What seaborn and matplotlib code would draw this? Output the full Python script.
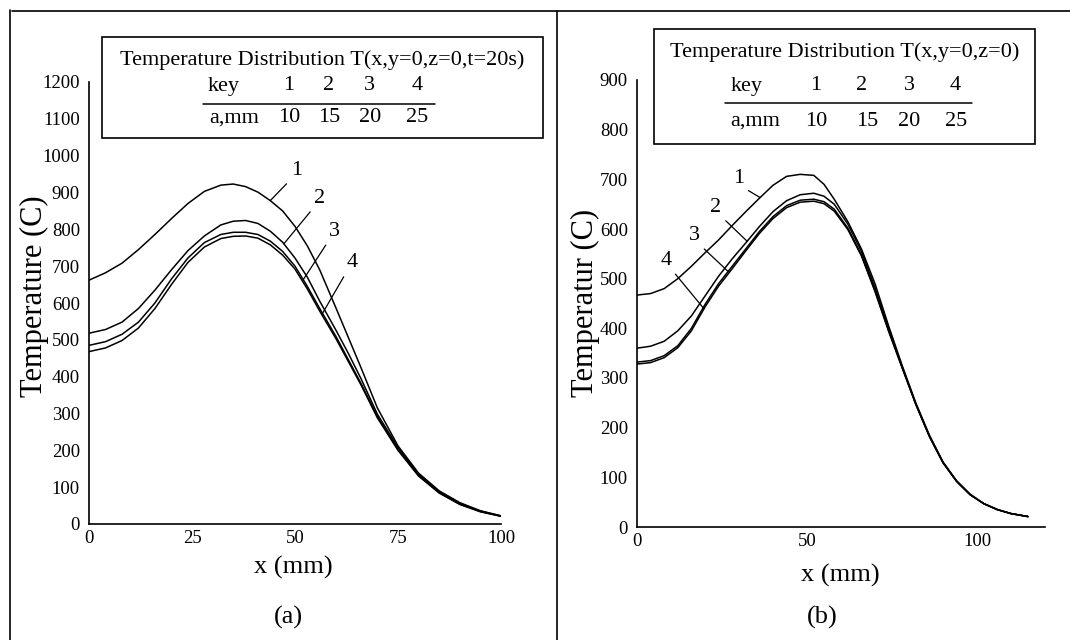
import matplotlib
matplotlib.use('Agg')
import numpy as np
import pandas as pd
import matplotlib.pyplot as plt
import seaborn as sns
from matplotlib.lines import Line2D
from matplotlib.patches import Rectangle

# ----------------------------------------------------------------------
# Datos
# ----------------------------------------------------------------------
# (a) T(x, y=0, z=0, t=20s)
x_a = [0, 4, 8, 12, 16, 20, 24, 28, 32, 35, 38, 41, 44, 47, 50, 53, 56, 60,
       63, 66, 70, 75, 80, 85, 90, 95, 100]
T_a1 = [662, 682, 708, 745, 786, 829, 870, 903, 920, 923, 916, 901, 878, 850,
        808, 755, 690, 585, 505, 425, 315, 212, 138, 90, 58, 36, 22]
T_a2 = [518, 528, 548, 585, 635, 690, 742, 782, 812, 822, 824, 816, 795, 765,
        722, 670, 605, 525, 462, 395, 298, 208, 136, 88, 56, 35, 22]
T_a3 = [485, 495, 515, 548, 600, 665, 722, 764, 786, 792, 792, 786, 768, 740,
        700, 645, 585, 508, 445, 382, 292, 202, 132, 85, 54, 34, 21]
T_a4 = [468, 478, 498, 532, 585, 650, 710, 752, 775, 781, 782, 776, 758, 730,
        692, 638, 578, 502, 440, 378, 288, 200, 130, 84, 53, 33, 21]

# (b) T(x, y=0, z=0)
x_b = [0, 4, 8, 12, 16, 20, 24, 28, 32, 36, 40, 44, 48, 52, 55, 58, 62, 66,
       70, 74, 78, 82, 86, 90, 94, 98, 102, 106, 110, 115]
T_b1 = [467, 470, 480, 500, 525, 552, 578, 607, 635, 662, 688, 706, 710, 708,
        690, 660, 615, 560, 490, 405, 325, 250, 185, 131, 93, 66, 47, 35, 27, 21]
T_b2 = [360, 364, 374, 395, 425, 465, 505, 540, 572, 605, 635, 657, 669, 672,
        666, 650, 610, 555, 482, 400, 322, 248, 183, 130, 92, 65, 47, 35, 27, 21]
T_b3 = [332, 335, 345, 365, 400, 448, 490, 525, 560, 595, 625, 647, 658, 660,
        655, 640, 602, 548, 476, 396, 321, 247, 183, 130, 92, 65, 47, 35, 27, 21]
T_b4 = [328, 331, 341, 361, 395, 443, 485, 520, 556, 591, 621, 643, 654, 656,
        651, 636, 599, 546, 474, 394, 320, 247, 182, 129, 92, 65, 47, 35, 27, 21]

claves = ['1', '2', '3', '4']
a_mm = ['10', '15', '20', '25']

# etiquetas de curva: posicion del numero y punto de la curva donde toca la linea guia
lbl_a_x = [50.3, 55.9, 59.5, 63.8]
lbl_a_y = [961, 885, 795, 709]
guia_a_x = [44.0, 47.3, 52.0, 56.5]
lbl_b_x = [29.8, 23.2, 16.9, 8.6]
lbl_b_y = [702, 644, 587, 537]
guia_b_x = [36.2, 32.4, 26.8, 19.7]

titulo_a = 'Temperature Distribution T(x,y=0,z=0,t=20s)'
titulo_b = 'Temperature Distribution T(x,y=0,z=0)'

# ----------------------------------------------------------------------
sns.set_theme(style="white")
plt.rcParams['font.family'] = ['Liberation Serif', 'DejaVu Serif']
plt.rcParams['text.color'] = 'black'
plt.rcParams['axes.labelcolor'] = 'black'

W, H = 1070, 640
def fx(px):
    return px / W
def fy(py):
    return 1 - py / H

fig = plt.figure(figsize=(W / 100, H / 100), dpi=100)
fig.patch.set_facecolor('white')

ax_a = fig.add_axes([fx(89), fy(524), (501 - 89) / W, (524 - 82) / H])
ax_b = fig.add_axes([fx(637), fy(527), (1045 - 637) / W, (527 - 80) / H])

df_a = pd.DataFrame({'x': np.tile(x_a, 4),
                     'T': np.concatenate([T_a1, T_a2, T_a3, T_a4]),
                     'key': np.repeat(claves, len(x_a))})
df_b = pd.DataFrame({'x': np.tile(x_b, 4),
                     'T': np.concatenate([T_b1, T_b2, T_b3, T_b4]),
                     'key': np.repeat(claves, len(x_b))})

for ax, df in [(ax_a, df_a), (ax_b, df_b)]:
    sns.lineplot(data=df, x='x', y='T', units='key', estimator=None,
                 color='black', lw=1.1, ax=ax, legend=False)

# ejes
ax_a.set_xlim(0, 100)
ax_a.set_ylim(0, 1200)
ax_a.set_xticks([0, 25, 50, 75, 100])
ax_a.set_yticks(range(0, 1201, 100))
ax_b.set_xlim(0, 120)
ax_b.set_ylim(0, 900)
ax_b.set_xticks([0, 50, 100])
ax_b.set_yticks(range(0, 901, 100))

for ax in [ax_a, ax_b]:
    sns.despine(ax=ax)
    ax.set_facecolor('white')
    for s in ['left', 'bottom']:
        ax.spines[s].set_color('black')
        ax.spines[s].set_linewidth(1.2)
    ax.tick_params(axis='x', direction='in', length=5, width=1, pad=4,
                   labelsize=13.5, colors='black')
    ax.tick_params(axis='y', direction='out', length=5, width=1, pad=1.5,
                   labelsize=13.5, colors='black')
    ax.set_xlabel('')
    ax.set_ylabel('')
    ax.grid(False)

# curvas numeradas con lineas guia
series_a = [T_a1, T_a2, T_a3, T_a4]
series_b = [T_b1, T_b2, T_b3, T_b4]
for i, k in enumerate(claves):
    ax_a.annotate(k, xy=(guia_a_x[i], np.interp(guia_a_x[i], x_a, series_a[i])),
                  xytext=(lbl_a_x[i], lbl_a_y[i]), ha='center', va='center',
                  fontsize=16,
                  arrowprops=dict(arrowstyle='-', lw=0.9, color='black',
                                  relpos=(0, 0), shrinkA=1, shrinkB=0))
    ax_b.annotate(k, xy=(guia_b_x[i], np.interp(guia_b_x[i], x_b, series_b[i])),
                  xytext=(lbl_b_x[i], lbl_b_y[i]), ha='center', va='center',
                  fontsize=16,
                  arrowprops=dict(arrowstyle='-', lw=0.9, color='black',
                                  relpos=(1, 0), shrinkA=1, shrinkB=0))

# rotulos de ejes y subtitulos (a), (b)
fig.text(fx(34), fy(296), 'Temperature (C)', rotation=90, ha='center', va='center', fontsize=22)
fig.text(fx(585), fy(303), 'Temperatur (C)', rotation=90, ha='center', va='center', fontsize=22)
fig.text(fx(293), fy(567), 'x (mm)', ha='center', va='center', fontsize=19)
fig.text(fx(840), fy(575), 'x (mm)', ha='center', va='center', fontsize=19)
fig.text(fx(288), fy(617), '(a)', ha='center', va='center', fontsize=19)
fig.text(fx(822), fy(617), '(b)', ha='center', va='center', fontsize=19)

# cuadros de leyenda (tabla key / a,mm)
def cuadro(x0, y0, x1, y1, titulo, tx, ty, col_x, fila1_y, fila2_y, ux0, ux1, uy, col_x2):
    fig.add_artist(Rectangle((fx(x0), fy(y1)), (x1 - x0) / W, (y1 - y0) / H,
                             transform=fig.transFigure, fill=True, fc='white',
                             ec='black', lw=1.2, zorder=5))
    fig.text(fx(tx), fy(ty), titulo, ha='center', va='center', fontsize=16, zorder=6)
    fig.text(fx(col_x[0]), fy(fila1_y), 'key', ha='center', va='center', fontsize=16, zorder=6)
    fig.text(fx(col_x2[0]), fy(fila2_y), 'a,mm', ha='center', va='center', fontsize=16, zorder=6)
    for j in range(4):
        fig.text(fx(col_x[j + 1]), fy(fila1_y), claves[j], ha='center', va='center',
                 fontsize=16, zorder=6)
        fig.text(fx(col_x2[j + 1]), fy(fila2_y), a_mm[j], ha='center', va='center',
                 fontsize=16, zorder=6)
    fig.add_artist(Line2D([fx(ux0), fx(ux1)], [fy(uy), fy(uy)], color='black',
                          lw=1.1, transform=fig.transFigure, zorder=6))

cuadro(102, 37, 543, 138, titulo_a, 322, 60,
       [224, 289, 329, 369, 417], 86, 118, 203, 435, 104,
       [234, 289, 329, 370, 417])
cuadro(654, 29, 1035, 144, titulo_b, 845, 52,
       [747, 816, 862, 909, 955], 86, 121, 725, 972, 103,
       [755, 816, 867, 909, 956])

# marco de la figura escaneada
for xs, ys in [([12, 1070], [11, 11]), ([10, 10], [10, 640]), ([557, 557], [11, 640])]:
    fig.add_artist(Line2D([fx(v) for v in xs], [fy(v) for v in ys], color='black',
                          lw=1.2, transform=fig.transFigure))

fig.savefig('out.png', dpi=100)
plt.close(fig)
